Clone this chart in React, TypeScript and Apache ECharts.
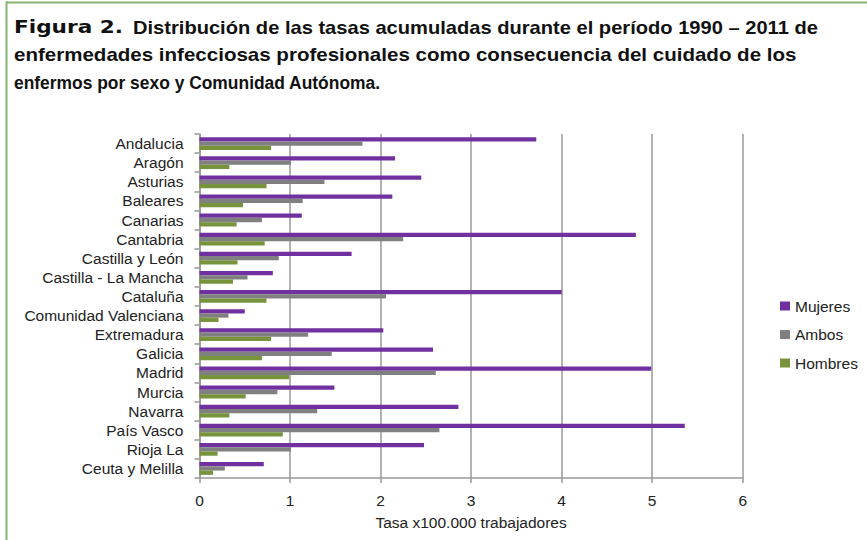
import React, { useEffect, useRef } from "react";
import * as echarts from "echarts";

const categories = [
  "Andalucia",
  "Aragón",
  "Asturias",
  "Baleares",
  "Canarias",
  "Cantabria",
  "Castilla y León",
  "Castilla - La Mancha",
  "Cataluña",
  "Comunidad Valenciana",
  "Extremadura",
  "Galicia",
  "Madrid",
  "Murcia",
  "Navarra",
  "País Vasco",
  "Rioja La",
  "Ceuta y Melilla",
];

const mujeres = [3.72, 2.16, 2.45, 2.13, 1.13, 4.82, 1.68, 0.81, 4.0, 0.5, 2.03, 2.58, 4.99, 1.49, 2.86, 5.36, 2.48, 0.71];
const ambos = [1.8, 1.01, 1.38, 1.14, 0.69, 2.25, 0.875, 0.53, 2.06, 0.32, 1.2, 1.46, 2.61, 0.86, 1.3, 2.65, 1.01, 0.28];
const hombres = [0.79, 0.33, 0.74, 0.48, 0.41, 0.72, 0.42, 0.37, 0.74, 0.21, 0.79, 0.69, 0.99, 0.51, 0.33, 0.92, 0.2, 0.15];

const seriesNames = ["Mujeres", "Ambos", "Hombres"];
const xTicks = { min: 0, max: 6, interval: 1 };
const axisName = "Tasa x100.000 trabajadores";
const titleLead = "Figura 2.";
const titleLines = [
  "Distribución de las tasas acumuladas durante el período 1990 – 2011 de",
  "enfermedades infecciosas profesionales como consecuencia del cuidado de los",
  "enfermos por sexo y Comunidad Autónoma.",
];

function measure(text: string, font: string): number {
  const c = document.createElement("canvas");
  const ctx = c.getContext("2d");
  if (!ctx) return 1;
  ctx.font = font;
  return ctx.measureText(text).width || 1;
}

export default function App() {
  const ref = useRef<HTMLDivElement>(null);
  useEffect(() => {
    if (!ref.current) return;
    const chart = echarts.init(ref.current, null, { renderer: "svg" });
    const font = "Liberation Sans";
    const green = "#86b46f";
    const tSize = 18;
    const titleFont = `bold ${tSize}px "Liberation Sans"`;
    const leadFont = `bold ${tSize}px "DejaVu Sans"`;
    // target spans [x start, x end] of each title piece
    const spans = [
      { text: titleLead, x0: 14, x1: 123, y: 27.5, lead: true },
      { text: titleLines[0], x0: 133, x1: 818, y: 27.5, lead: false },
      { text: titleLines[1], x0: 14, x1: 797, y: 55, lead: false },
      { text: titleLines[2], x0: 14, x1: 381, y: 82.5, lead: false },
    ];
    const titleGraphics = spans.map((s) => {
      const w = measure(s.text, s.lead ? leadFont : titleFont);
      return {
        type: "text",
        x: s.x0,
        y: s.y,
        scaleX: (s.x1 - s.x0) / w,
        style: {
          text: s.text,
          fontFamily: s.lead ? "DejaVu Sans" : font,
          fontWeight: "bold",
          fontSize: tSize,
          fill: "#111",
          verticalAlign: "middle",
          align: "left",
        },
      };
    });
    chart.setOption({
      animation: false,
      backgroundColor: "#ffffff",
      textStyle: { fontFamily: font },
      graphic: [
        { type: "rect", shape: { x: 6, y: 1.5, width: 861, height: 2 }, style: { fill: green } },
        { type: "rect", shape: { x: 5.5, y: 1.5, width: 2, height: 539 }, style: { fill: green } },
        ...titleGraphics,
      ],
      legend: {
        orient: "vertical",
        left: 780,
        top: 298,
        padding: 0,
        itemWidth: 10,
        itemHeight: 9,
        itemGap: 12.5,
        icon: "rect",
        data: seriesNames,
        textStyle: { fontSize: 15.5, color: "#222", fontFamily: font },
      },
      grid: { left: 199.5, right: 124.3, top: 134, bottom: 62 },
      xAxis: {
        type: "value",
        min: xTicks.min,
        max: xTicks.max,
        interval: xTicks.interval,
        name: axisName,
        nameLocation: "middle",
        nameGap: 36,
        nameTextStyle: { fontSize: 15.5, color: "#222", fontFamily: font },
        axisLine: { show: true, lineStyle: { color: "#999", width: 1.5 } },
        axisTick: { show: true, length: 5, lineStyle: { color: "#999", width: 1.5 } },
        axisLabel: { fontSize: 15.5, color: "#222", margin: 14, fontFamily: font },
        splitLine: { show: true, lineStyle: { color: "#999", width: 1.5 } },
      },
      yAxis: {
        type: "category",
        inverse: true,
        data: categories,
        axisLine: { show: true, lineStyle: { color: "#999", width: 1.5 } },
        axisTick: { show: true, length: 5, lineStyle: { color: "#999", width: 1.5 } },
        axisLabel: { fontSize: 15.5, color: "#222", margin: 16, fontFamily: font, interval: 0 },
      },
      series: [
        { name: seriesNames[0], type: "bar", data: mujeres, itemStyle: { color: "#7030a0" }, barGap: "0%", barCategoryGap: "33%" },
        { name: seriesNames[1], type: "bar", data: ambos, itemStyle: { color: "#808080" }, barGap: "0%", barCategoryGap: "33%" },
        { name: seriesNames[2], type: "bar", data: hombres, itemStyle: { color: "#77933c" }, barGap: "0%", barCategoryGap: "33%" },
      ],
    });
    return () => chart.dispose();
  }, []);
  return <div ref={ref} style={{ position: "fixed", left: 0, top: 0, width: 867, height: 540 }} />;
}
